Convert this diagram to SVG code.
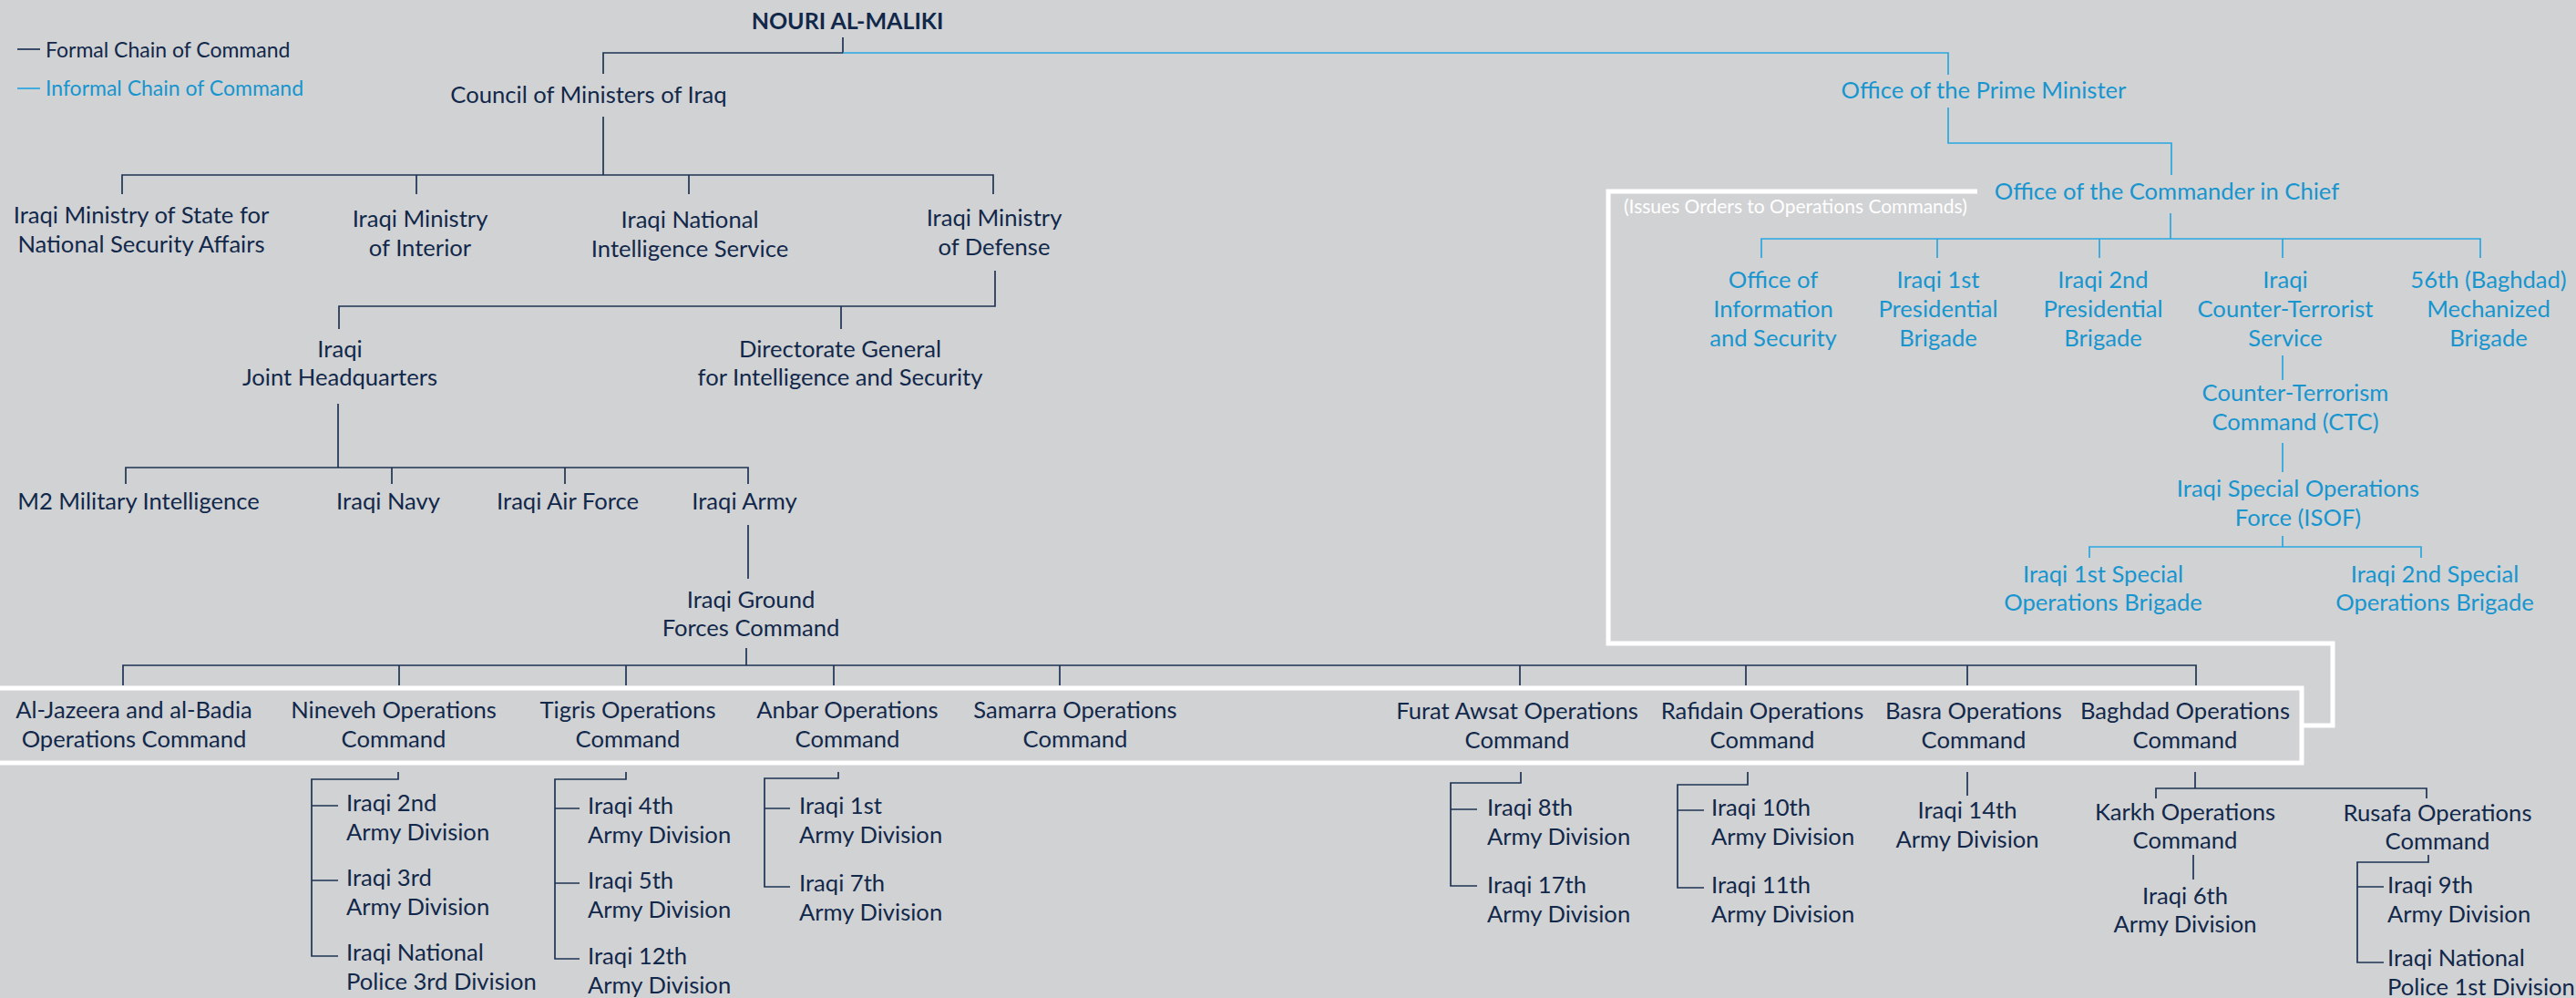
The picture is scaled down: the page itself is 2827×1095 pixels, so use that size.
<svg xmlns="http://www.w3.org/2000/svg" width="2827" height="1095" viewBox="0 0 2827 1095">
<style>
text{font-family:Lato,"Open Sans","Liberation Sans",sans-serif;font-size:25.6px;fill:#11284a;text-anchor:middle}
.b{fill:#1795cf}
.l{text-anchor:start}
.bold{font-weight:700;font-size:25px}
.lg{font-size:23px;text-anchor:start}
.sm{font-size:21px;fill:#ffffff;text-anchor:start}
.ln{fill:none;stroke:#1e3352;stroke-width:1.7}
.bl{fill:none;stroke:#2aa6df;stroke-width:1.7}
.box{fill:none;stroke:#ffffff;stroke-width:5}
</style>
<rect x="0" y="0" width="2827" height="1095" fill="#d1d2d4"/>

<g id="highlight-boxes">
<rect class="box" x="-10" y="755" width="2536" height="82"/>
<path class="box" d="M2170,210 H1765 V706 H2560 V796 H2526"/>
</g>

<g id="legend">
<line class="ln" x1="19" y1="54" x2="44" y2="54"/>
<text class="lg" x="50" y="63">Formal Chain of Command</text>
<line class="bl" x1="19" y1="97" x2="44" y2="97"/>
<text class="lg b" x="50" y="105">Informal Chain of Command</text>
</g>

<g id="connectors">
<path class="ln" d="M925,41 V58 H662 V81"/>
<path class="ln" d="M662,128 V192"/>
<path class="ln" d="M134,213 V192 H1090 V213 M457,192 V213 M756,192 V213"/>
<path class="ln" d="M1092,297 V336 H372 V361 M923,336 V361"/>
<path class="ln" d="M371,443 V513"/>
<path class="ln" d="M138,531 V513 H821 V531 M430,513 V531 M620,513 V531"/>
<path class="ln" d="M821,576 V635"/>
<path class="ln" d="M819,711 V730"/>
<path class="ln" d="M135,752 V730 H2410 V752 M438,730 V752 M687,730 V752 M915,730 V752 M1163,730 V752 M1668,730 V752 M1916,730 V752 M2159,730 V752"/>
<path class="ln" d="M437,847 V855 H342 V1049 H371 M342,884 H371 M342,966 H371"/>
<path class="ln" d="M687,847 V855 H609 V1052 H636 M609,887 H636 M609,969 H636"/>
<path class="ln" d="M920,847 V854 H839 V973 H867 M839,887 H867"/>
<path class="ln" d="M1669,847 V859 H1592 V972 H1621 M1592,888 H1621"/>
<path class="ln" d="M1918,847 V861 H1841 V974 H1870 M1841,889 H1870"/>
<path class="ln" d="M2159,847 V873"/>
<path class="ln" d="M2409,847 V865 M2366,876 V865 H2663 V876"/>
<path class="ln" d="M2407,938 V965"/>
<path class="ln" d="M2665,938 V946 H2587 V1056 H2616 M2587,973 H2616"/>
<path class="bl" d="M925,58 H2138 V82"/>
<path class="bl" d="M2138,118 V157 H2383 V192"/>
<path class="bl" d="M2382,234 V262"/>
<path class="bl" d="M1933,283 V262 H2722 V283 M2126,262 V283 M2304,262 V283 M2505,262 V283"/>
<path class="bl" d="M2505,390 V417"/>
<path class="bl" d="M2505,486 V518"/>
<path class="bl" d="M2505,588 V600"/>
<path class="bl" d="M2293,612 V600 H2657 V612"/>
</g>

<g id="n-maliki"><text class="bold" x="930" y="32">NOURI AL-MALIKI</text></g>
<g id="n-council"><text x="646" y="113">Council of Ministers of Iraq</text></g>
<g id="n-opm"><text class="b" x="2177" y="108">Office of the Prime Minister</text></g>
<g id="n-occ"><text class="b" x="2378" y="219">Office of the Commander in Chief</text></g>
<g id="n-issues-label"><text class="sm" x="1782" y="234">(Issues Orders to Operations Commands)</text></g>

<g id="n-mssa"><text x="155" y="245"><tspan x="155">Iraqi Ministry of State for</tspan><tspan x="155" y="277">National Security Affairs</tspan></text></g>
<g id="n-moi"><text x="461" y="249"><tspan x="461">Iraqi Ministry</tspan><tspan x="461" y="281">of Interior</tspan></text></g>
<g id="n-inis"><text x="757" y="250"><tspan x="757">Iraqi National</tspan><tspan x="757" y="282">Intelligence Service</tspan></text></g>
<g id="n-mod"><text x="1091" y="248"><tspan x="1091">Iraqi Ministry</tspan><tspan x="1091" y="280">of Defense</tspan></text></g>

<g id="n-jhq"><text x="373" y="392"><tspan x="373">Iraqi</tspan><tspan x="373" y="423">Joint Headquarters</tspan></text></g>
<g id="n-dgis"><text x="922" y="392"><tspan x="922">Directorate General</tspan><tspan x="922" y="423">for Intelligence and Security</tspan></text></g>

<g id="n-m2"><text x="152" y="559">M2 Military Intelligence</text></g>
<g id="n-navy"><text x="426" y="559">Iraqi Navy</text></g>
<g id="n-airforce"><text x="623" y="559">Iraqi Air Force</text></g>
<g id="n-army"><text x="817" y="559">Iraqi Army</text></g>
<g id="n-gfc"><text x="824" y="667"><tspan x="824">Iraqi Ground</tspan><tspan x="824" y="698">Forces Command</tspan></text></g>

<g id="n-jazeera"><text x="147" y="788"><tspan x="147">Al-Jazeera and al-Badia</tspan><tspan x="147" y="820">Operations Command</tspan></text></g>
<g id="n-nineveh"><text x="432" y="788"><tspan x="432">Nineveh Operations</tspan><tspan x="432" y="820">Command</tspan></text></g>
<g id="n-tigris"><text x="689" y="788"><tspan x="689">Tigris Operations</tspan><tspan x="689" y="820">Command</tspan></text></g>
<g id="n-anbar"><text x="930" y="788"><tspan x="930">Anbar Operations</tspan><tspan x="930" y="820">Command</tspan></text></g>
<g id="n-samarra"><text x="1180" y="788"><tspan x="1180">Samarra Operations</tspan><tspan x="1180" y="820">Command</tspan></text></g>
<g id="n-furat"><text x="1665" y="789"><tspan x="1665">Furat Awsat Operations</tspan><tspan x="1665" y="821">Command</tspan></text></g>
<g id="n-rafidain"><text x="1934" y="789"><tspan x="1934">Rafidain Operations</tspan><tspan x="1934" y="821">Command</tspan></text></g>
<g id="n-basra"><text x="2166" y="789"><tspan x="2166">Basra Operations</tspan><tspan x="2166" y="821">Command</tspan></text></g>
<g id="n-baghdad"><text x="2398" y="789"><tspan x="2398">Baghdad Operations</tspan><tspan x="2398" y="821">Command</tspan></text></g>

<g id="n-div2"><text class="l" x="380" y="890"><tspan x="380">Iraqi 2nd</tspan><tspan x="380" y="922">Army Division</tspan></text></g>
<g id="n-div3"><text class="l" x="380" y="972"><tspan x="380">Iraqi 3rd</tspan><tspan x="380" y="1004">Army Division</tspan></text></g>
<g id="n-np3"><text class="l" x="380" y="1054"><tspan x="380">Iraqi National</tspan><tspan x="380" y="1086">Police 3rd Division</tspan></text></g>

<g id="n-div4"><text class="l" x="645" y="893"><tspan x="645">Iraqi 4th</tspan><tspan x="645" y="925">Army Division</tspan></text></g>
<g id="n-div5"><text class="l" x="645" y="975"><tspan x="645">Iraqi 5th</tspan><tspan x="645" y="1007">Army Division</tspan></text></g>
<g id="n-div12"><text class="l" x="645" y="1058"><tspan x="645">Iraqi 12th</tspan><tspan x="645" y="1090">Army Division</tspan></text></g>

<g id="n-div1"><text class="l" x="877" y="893"><tspan x="877">Iraqi 1st</tspan><tspan x="877" y="925">Army Division</tspan></text></g>
<g id="n-div7"><text class="l" x="877" y="978"><tspan x="877">Iraqi 7th</tspan><tspan x="877" y="1010">Army Division</tspan></text></g>

<g id="n-div8"><text class="l" x="1632" y="895"><tspan x="1632">Iraqi 8th</tspan><tspan x="1632" y="927">Army Division</tspan></text></g>
<g id="n-div17"><text class="l" x="1632" y="980"><tspan x="1632">Iraqi 17th</tspan><tspan x="1632" y="1012">Army Division</tspan></text></g>

<g id="n-div10"><text class="l" x="1878" y="895"><tspan x="1878">Iraqi 10th</tspan><tspan x="1878" y="927">Army Division</tspan></text></g>
<g id="n-div11"><text class="l" x="1878" y="980"><tspan x="1878">Iraqi 11th</tspan><tspan x="1878" y="1012">Army Division</tspan></text></g>

<g id="n-div14"><text x="2159" y="898"><tspan x="2159">Iraqi 14th</tspan><tspan x="2159" y="930">Army Division</tspan></text></g>

<g id="n-karkh"><text x="2398" y="900"><tspan x="2398">Karkh Operations</tspan><tspan x="2398" y="931">Command</tspan></text></g>
<g id="n-rusafa"><text x="2675" y="901"><tspan x="2675">Rusafa Operations</tspan><tspan x="2675" y="932">Command</tspan></text></g>
<g id="n-div6"><text x="2398" y="992"><tspan x="2398">Iraqi 6th</tspan><tspan x="2398" y="1023">Army Division</tspan></text></g>
<g id="n-div9"><text class="l" x="2620" y="980"><tspan x="2620">Iraqi 9th</tspan><tspan x="2620" y="1012">Army Division</tspan></text></g>
<g id="n-np1"><text class="l" x="2620" y="1060"><tspan x="2620">Iraqi National</tspan><tspan x="2620" y="1092">Police 1st Division</tspan></text></g>

<g id="n-ois"><text class="b" x="1946" y="316"><tspan x="1946">Office of</tspan><tspan x="1946" y="348">Information</tspan><tspan x="1946" y="380">and Security</tspan></text></g>
<g id="n-pb1"><text class="b" x="2127" y="316"><tspan x="2127">Iraqi 1st</tspan><tspan x="2127" y="348">Presidential</tspan><tspan x="2127" y="380">Brigade</tspan></text></g>
<g id="n-pb2"><text class="b" x="2308" y="316"><tspan x="2308">Iraqi 2nd</tspan><tspan x="2308" y="348">Presidential</tspan><tspan x="2308" y="380">Brigade</tspan></text></g>
<g id="n-cts"><text class="b" x="2508" y="316"><tspan x="2508">Iraqi</tspan><tspan x="2508" y="348">Counter-Terrorist</tspan><tspan x="2508" y="380">Service</tspan></text></g>
<g id="n-56th"><text class="b" x="2731" y="316"><tspan x="2731">56th (Baghdad)</tspan><tspan x="2731" y="348">Mechanized</tspan><tspan x="2731" y="380">Brigade</tspan></text></g>
<g id="n-ctc"><text class="b" x="2519" y="440"><tspan x="2519">Counter-Terrorism</tspan><tspan x="2519" y="472">Command (CTC)</tspan></text></g>
<g id="n-isof"><text class="b" x="2522" y="545"><tspan x="2522">Iraqi Special Operations</tspan><tspan x="2522" y="577">Force (ISOF)</tspan></text></g>
<g id="n-sob1"><text class="b" x="2308" y="639"><tspan x="2308">Iraqi 1st Special</tspan><tspan x="2308" y="670">Operations Brigade</tspan></text></g>
<g id="n-sob2"><text class="b" x="2672" y="639"><tspan x="2672">Iraqi 2nd Special</tspan><tspan x="2672" y="670">Operations Brigade</tspan></text></g>
</svg>
